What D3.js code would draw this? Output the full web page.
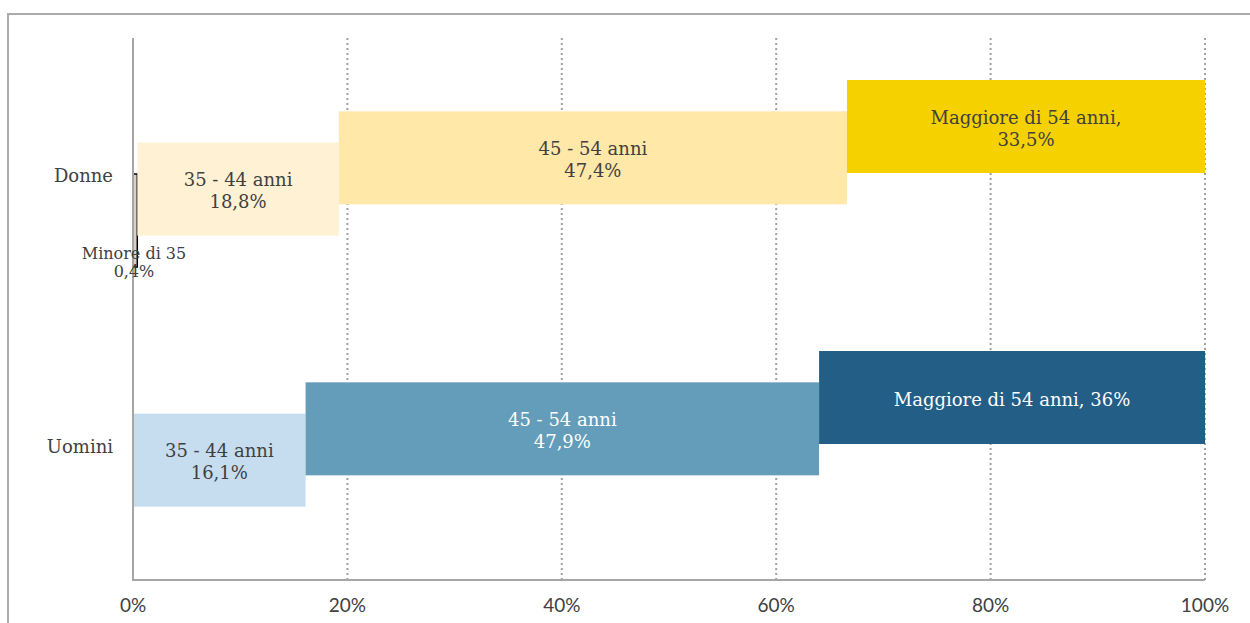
<!DOCTYPE html>
<html>
<head>
<meta charset="utf-8">
<script src="https://cdn.jsdelivr.net/npm/d3@7"></script>
<style>
  body { margin: 0; background: #fff; }
  svg { display: block; }
</style>
</head>
<body>
<svg width="1250" height="623"></svg>
<script>
// Categories and series (Excel draws the first series at the bottom)
const categories = ["Donne", "Uomini"];
const series = ["Minore di 35", "35 - 44 anni", "45 - 54 anni", "Maggiore di 54 anni"];
const donne = [0.4, 18.8, 47.4, 33.5];
const uomini = [0, 16.1, 47.9, 36];
const ticks = [0, 20, 40, 60, 80, 100];

// Label text per bar (as in the original)
const donneLabels = [["Minore di 35", "0,4%"], ["35 - 44 anni", "18,8%"], ["45 - 54 anni", "47,4%"], ["Maggiore di 54 anni,", "33,5%"]];
const uominiLabels = [null, ["35 - 44 anni", "16,1%"], ["45 - 54 anni", "47,9%"], ["Maggiore di 54 anni, 36%"]];

const colors = {
    Donne: ["#d8d0c2", "#fff2d4", "#ffe8a8", "#f5d100"],
    Uomini: ["#d8d0c2", "#c6ddf0", "#639db9", "#235e87"]
};
const textColors = {
    Donne: ["#404040", "#404040", "#404040", "#404040"],
    Uomini: ["#404040", "#404040", "#ffffff", "#ffffff"]
};

const svg = d3.select("svg");
const serif = "'DejaVu Serif', serif";

// outer frame
svg.append("path")
    .attr("d", "M8,623 V14 H1250")
    .attr("fill", "none")
    .attr("stroke", "#ababab")
    .attr("stroke-width", 2);

const x = d3.scaleLinear().domain([0, 100]).range([133, 1205]).clamp(true);
const y = d3.scaleBand().domain(categories).range([38, 580]);
// series offset inside a category band (overlapping bars)
const off = d3.scalePoint().domain(series.slice().reverse()).range([-47, 47]);
const barH = 93;

// dotted gridlines
svg.append("g")
    .selectAll("line")
    .data(ticks.filter(t => t > 0))
    .enter()
    .append("line")
    .attr("x1", d => x(d))
    .attr("x2", d => x(d))
    .attr("y1", 38)
    .attr("y2", 580)
    .attr("stroke", "#a0a0a0")
    .attr("stroke-width", 2)
    .attr("stroke-dasharray", "2,3");

// build bars
const bars = [];
categories.forEach(cat => {
    const vals = cat === "Donne" ? donne : uomini;
    const labs = cat === "Donne" ? donneLabels : uominiLabels;
    let acc = 0;
    vals.forEach((v, i) => {
        bars.push({ cat, s: series[i], i, x0: acc, x1: acc + v, v, label: labs[i] });
        acc += v;
    });
});

svg.append("g")
    .selectAll("rect")
    .data(bars.filter(d => d.v > 0))
    .enter()
    .append("rect")
    .attr("x", d => x(d.x0))
    .attr("width", d => x(d.x1) - x(d.x0))
    .attr("y", d => y(d.cat) + y.bandwidth() / 2 + off(d.s) - barH / 2)
    .attr("height", barH)
    .attr("fill", d => colors[d.cat][d.i])
    .attr("stroke", d => d.i === 0 ? "#000" : "none")
    .attr("stroke-width", 1.5);

// axes lines
svg.append("line")
    .attr("x1", 133).attr("x2", 133).attr("y1", 38).attr("y2", 580)
    .attr("stroke", "#a6a6a6").attr("stroke-width", 2);
svg.append("line")
    .attr("x1", 132).attr("x2", 1205).attr("y1", 580).attr("y2", 580)
    .attr("stroke", "#a6a6a6").attr("stroke-width", 2);

// tick labels
svg.append("g")
    .selectAll("text")
    .data(ticks)
    .enter()
    .append("text")
    .attr("x", d => x(d))
    .attr("y", 612)
    .attr("text-anchor", "middle")
    .attr("font-family", "Lato, sans-serif")
    .attr("font-size", 19)
    .attr("fill", "#404040")
    .text(d => d + "%");

// category labels
svg.append("g")
    .selectAll("text")
    .data(categories)
    .enter()
    .append("text")
    .attr("x", 113)
    .attr("y", d => y(d) + y.bandwidth() / 2 + 8)
    .attr("text-anchor", "end")
    .attr("font-family", serif)
    .attr("font-size", 18)
    .attr("fill", "#404040")
    .text(d => d);

// bar labels
const lab = svg.append("g")
    .selectAll("text")
    .data(bars.filter(d => d.label))
    .enter()
    .append("text")
    .attr("font-family", serif)
    .attr("text-anchor", "middle")
    .attr("fill", d => textColors[d.cat][d.i])
    .attr("font-size", d => d.i === 0 ? 16 : 18)
    .attr("transform", d => {
        const cy = y(d.cat) + y.bandwidth() / 2 + off(d.s);
        if (d.i === 0) return `translate(${x(d.x0) + 1},${cy + 41})`;
        return `translate(${(x(d.x0) + x(d.x1)) / 2},${cy + 2})`;
    });

lab.each(function (d) {
    const n = d.label.length;
    const lh = d.i === 0 ? 18 : 22;
    d.label.forEach((t, k) => {
        d3.select(this).append("tspan")
            .attr("x", 0)
            .attr("y", (k - (n - 1) / 2) * lh + 6)
            .text(t);
    });
});
</script>
</body>
</html>
